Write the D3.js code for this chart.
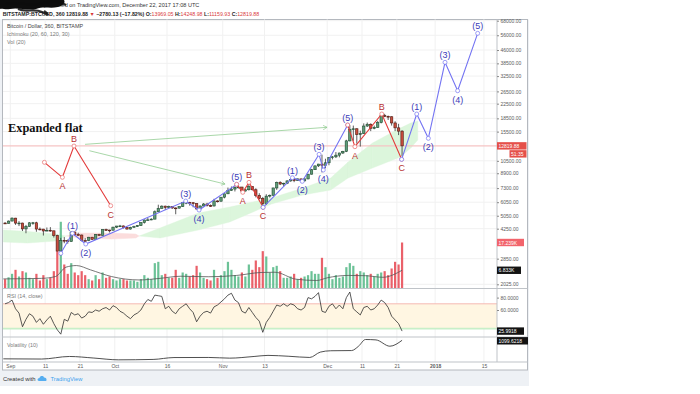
<!DOCTYPE html>
<html>
<head>
<meta charset="utf-8">
<title>BTCUSD 360 - Expanded flat</title>
<script src="https://cdn.jsdelivr.net/npm/d3@7/dist/d3.min.js"></script>
<style>
    body { margin: 0; background: #ffffff; }
    svg text { font-family: "Liberation Sans", Arial, sans-serif; }
</style>
</head>
<body>
<svg id="chart" width="700" height="394"></svg>
<script>
// daily candles 2017-08-30 .. 2017-12-22
var firstDay = "2017-08-30";
var firstOpen = 4580;
var closes = [4565, 4703,
    4892, 4579, 4582, 4237, 4376, 4597, 4599, 4229, 4226, 4122, 4161, 4131, 3882, 3154, 3637, 3625, 3582, 4065, 3924, 3905,
    3631, 3630, 3792, 3682, 3926, 3892, 4200, 4174, 4163, 4338,
    4403, 4409, 4317, 4229, 4328, 4370, 4426, 4610, 4772, 4781, 4827, 5325, 5563, 5739, 5647, 5711, 5603, 5590, 5708, 6011,
    6031, 6008, 5930, 5526, 5750, 5904, 5780, 5753, 6153, 6130, 6468,
    6767, 7078, 7207, 7379, 7407, 7023, 7144, 7459, 7143, 6618, 6357, 5950, 6559, 6635, 7315, 7871, 7708, 7790, 8036, 8200,
    8071, 8253, 8038, 8253, 8790, 9330, 9818, 10058, 9888, 10233,
    10975, 11074, 11323, 11657, 11916, 13700, 16000, 16100, 14900, 15100, 16700, 17100, 16200, 16400, 17500, 19200, 19000, 18900,
    17400, 16300, 15600, 12820];
var highs = [4640, 4740,
    4940, 4910, 4700, 4600, 4470, 4630, 4650, 4660, 4320, 4240, 4320, 4340, 4140, 3920, 3760, 3800, 3680, 4110, 4090, 4030,
    3930, 3750, 3810, 3810, 3950, 3970, 4210, 4250, 4190, 4360,
    4410, 4470, 4430, 4350, 4360, 4420, 4460, 4620, 4800, 4900, 4880, 5420, 5850, 5800, 5780, 5780, 5730, 5640, 5720, 6060,
    6180, 6080, 6050, 5960, 5800, 5980, 6000, 5870, 6330, 6200, 6470,
    6780, 7350, 7460, 7480, 7600, 7410, 7200, 7800, 7460, 7280, 6820, 6490, 6730, 6700, 7330, 7960, 8000, 7840, 8100, 8300,
    8370, 8290, 8280, 8320, 8800, 9430, 9850, 10080, 11400, 10800,
    11000, 11200, 11800, 11700, 12000, 13900, 16900, 16800, 16200, 15700, 17300, 17500, 17300, 16800, 17900, 19300, 19650, 19200,
    19000, 17800, 17200, 15800];
var lows = [4540, 4560,
    4700, 4470, 4400, 4120, 4000, 4370, 4480, 4080, 4160, 3880, 4110, 4080, 3780, 3150, 2980, 3500, 3480, 3580, 3870, 3880,
    3590, 3560, 3600, 3670, 3680, 3880, 3880, 4120, 4040, 4160,
    4290, 4380, 4260, 4200, 4200, 4320, 4350, 4420, 4550, 4730, 4760, 4820, 5320, 5560, 5450, 5600, 5530, 5150, 5560, 5680,
    5890, 5780, 5650, 5500, 5450, 5720, 5710, 5680, 5710, 6030, 6100,
    6370, 6740, 7050, 6980, 7280, 6950, 6970, 7070, 7070, 6450, 6280, 5500, 5830, 6430, 6600, 7130, 7600, 7460, 7700, 7950,
    7900, 8050, 8000, 7950, 8200, 8750, 9300, 9680, 9000, 9500,
    9900, 10700, 10900, 11000, 11500, 11800, 13600, 13700, 13200, 12700, 15000, 16500, 15600, 16000, 16300, 17300, 18800, 18100,
    16800, 15600, 14800, 11160];
// volume in thousands of BTC
var volumes = [3.5, 4.2,
    5.5, 7.0, 4.5, 6.5, 6.0, 4.0, 3.5, 5.5, 3.0, 5.0, 3.5, 4.0, 6.5, 14.0, 25.0, 9.0, 5.5, 9.5, 6.0, 5.0,
    6.5, 5.0, 3.5, 3.0, 5.0, 3.5, 6.0, 4.0, 4.5, 3.5,
    3.0, 3.5, 3.5, 3.0, 3.0, 3.0, 2.5, 3.5, 5.0, 4.0, 3.5, 9.5, 10.0, 5.0, 5.5, 4.0, 4.0, 7.0, 4.0, 6.0,
    5.5, 4.5, 5.0, 8.5, 6.0, 4.0, 3.5, 3.0, 7.0, 4.0, 5.0,
    6.5, 10.0, 7.0, 5.0, 4.5, 6.0, 4.5, 9.0, 7.0, 10.5, 8.0, 14.0, 12.0, 6.0, 8.0, 8.5, 6.5, 4.0, 4.0, 4.5,
    5.5, 3.5, 4.0, 4.5, 5.0, 6.5, 5.5, 5.5, 11.5, 8.0,
    5.5, 3.5, 5.0, 4.0, 4.5, 8.0, 9.5, 8.5, 5.5, 6.5, 6.0, 5.0, 5.5, 4.5, 5.5, 6.0, 6.5, 5.0,
    7.5, 10.0, 9.0, 17.239];
var rsiValues = [70, 72,
    76, 62, 55, 33, 45, 54, 50, 40, 46, 37, 44, 50, 38, 28, 21, 45, 42, 56, 52, 54,
    47, 50, 57, 56, 60, 58, 62, 64, 60, 67,
    64, 58, 55, 50, 46, 52, 55, 60, 70, 77, 74, 84, 83, 82, 62, 66, 58, 54, 62, 66,
    70, 62, 56, 41, 50, 56, 58, 55, 65, 68, 73,
    78, 84, 87, 76, 72, 58, 55, 64, 56, 48, 42, 24, 40, 48, 58, 68, 66, 70, 66, 70,
    68, 62, 60, 64, 80, 78, 82, 88, 58, 56,
    66, 70, 62, 68, 62, 80, 89, 62, 57, 52, 64, 66, 60, 62, 68, 76, 72, 64,
    50, 44, 38, 25.9918];

var volMADates = ["2017-08-30", "2017-09-10", "2017-09-14", "2017-09-17", "2017-09-20", "2017-09-24", "2017-09-30",
    "2017-10-08", "2017-10-14", "2017-10-20", "2017-10-28", "2017-11-05", "2017-11-12", "2017-11-16", "2017-11-22",
    "2017-11-28", "2017-12-01", "2017-12-07", "2017-12-12", "2017-12-17", "2017-12-22T12:00"];
var volMAValues = [3.6, 3.8, 4.5, 8.0, 8.6, 7.0, 4.5, 3.2, 3.8, 4.6, 4.4, 4.9, 6.0, 6.1, 3.5, 3.0, 4.0, 4.9, 4.8, 4.2, 6.833];

var volatilityDates = ["2017-08-30", "2017-09-10", "2017-09-18", "2017-09-25", "2017-10-02", "2017-10-12", "2017-10-18",
    "2017-10-28", "2017-11-03", "2017-11-10", "2017-11-14", "2017-11-20", "2017-11-26", "2017-11-29", "2017-12-02",
    "2017-12-08", "2017-12-10", "2017-12-12", "2017-12-15", "2017-12-19", "2017-12-22T12:00"];
var volatilityValues = [160, 150, 280, 200, 110, 130, 225, 230, 195, 280, 335, 290, 230, 500, 570, 580, 800, 1140, 1120, 800, 1099.6218];

// ichimoku cloud (leading spans, shifted forward)
var cloudDates = ["2017-08-30", "2017-09-06", "2017-09-14", "2017-09-17", "2017-09-21", "2017-09-30", "2017-10-07",
    "2017-10-08", "2017-10-14", "2017-10-25", "2017-11-03", "2017-11-15", "2017-11-24", "2017-12-02", "2017-12-07",
    "2017-12-14", "2017-12-22", "2017-12-25", "2017-12-27"];
var spanA = [4175, 4100, 3958, 3853, 3751, 3701, 3751, 3853, 4287, 5236, 5673, 6396, 7307, 8350, 10335, 13315, 16260, 17385, 17870];
var spanB = [3556, 3509, 3603, 3853, 4011, 4011, 3958, 3853, 3751, 4175, 4645, 5904, 6656, 7115, 8350, 9541, 11046, 12455, 13860];

// wave counts drawn on the chart: [time, price, label]
var flatWave = [["2017-09-10T19:00", 10294, ""], ["2017-09-15T23:00", 8430, "A"],
    ["2017-09-19T07:00", 12794, "B"], ["2017-09-29T20:00", 5772, "C"]];
var impulse1 = [["2017-09-15T12:00", 3060, ""], ["2017-09-18T20:00", 3995, "(1)"], ["2017-09-22T16:00", 3464, "(2)"],
    ["2017-10-21T09:00", 6145, "(3)"], ["2017-10-25T05:00", 5450, "(4)"], ["2017-11-05T00:00", 7676, "(5)"]];
var correction1 = [["2017-11-05T00:00", 7676, ""], ["2017-11-06T18:00", 6901, "A"],
    ["2017-11-08T13:00", 7884, "B"], ["2017-11-12T14:00", 5649, "C"]];
var impulse2 = [["2017-11-12T14:00", 5649, ""], ["2017-11-21T00:00", 8385, "(1)"], ["2017-11-23T20:00", 7990, "(2)"],
    ["2017-11-28T16:00", 11453, "(3)"], ["2017-11-29T21:00", 9290, "(4)"], ["2017-12-06T21:00", 16925, "(5)"]];
var correction2 = [["2017-12-06T21:00", 16925, ""], ["2017-12-08T23:00", 12675, "A"],
    ["2017-12-16T16:00", 19605, "B"], ["2017-12-22T09:00", 10713, "C"]];
var impulse3 = [["2017-12-22T09:00", 10713, ""], ["2017-12-26T17:00", 19600, "(1)"], ["2017-12-30T01:00", 14173, "(2)"],
    ["2018-01-03T20:00", 39050, "(3)"], ["2018-01-07T11:00", 26740, "(4)"], ["2018-01-13T05:00", 57470, "(5)"]];
var arrowStarts = [["2017-09-22T11:00", 13085], ["2017-09-23T17:00", 12018]];
var arrowEnds = [["2017-11-30T23:00", 16415], ["2017-11-01T16:00", 7706]];

var priceTicks = [68000, 56000, 46000, 38500, 32500, 26500, 22500, 18500, 15500, 10500, 8900, 7300, 6050, 5050, 4250, 2850, 2025];
var rsiTicks = [80, 60];
var timeTickDates = ["2017-09-01", "2017-09-11", "2017-09-21", "2017-10-01", "2017-10-16", "2017-11-01", "2017-11-13",
    "2017-12-01", "2017-12-11", "2017-12-21", "2018-01-01", "2018-01-15"];
var timeTickLabels = ["Sep", "11", "21", "Oct", "16", "Nov", "13", "Dec", "11", "21", "2018", "15"];

var lastPrice = 12819.88, lastVolume = 17.239, lastVolMA = 6.833, lastRsi = 25.9918, lastVolatility = 1099.6218;

var parseTime = d3.utcParse("%Y-%m-%dT%H:%M"),
    parseDay = d3.utcParse("%Y-%m-%d");

function toDate(s) {
    return s.length > 10 ? parseTime(s) : parseDay(s);
}

var svg = d3.select("#chart");

var plotLeft = 3, plotRight = 497,
    mainTop = 19.5, mainBottom = 288.5, rsiBottom = 337, volBottom = 362, frameBottom = 370;

var x = d3.scaleUtc()
    .domain([parseDay("2017-09-01"), parseDay("2017-12-01")])
    .range([10.3, 327.2]);
var y = d3.scaleLog()
    .domain([2025, 68000])
    .range([284.3, 20.7]);
var yVol = d3.scaleLinear()
    .domain([0, lastVolume])
    .range([mainBottom, 242.5]);
var yRsi = d3.scaleLinear()
    .domain([30, 70])
    .range([328.6, 303.8]);
var yVolat = d3.scaleLinear()
    .domain([0, lastVolatility])
    .range([volBottom, 340.3]);

// page frame
svg.append("rect").attr("x", 0).attr("y", 0).attr("width", 529).attr("height", 386).attr("fill", "#eef1f5");
svg.append("rect").attr("x", 0).attr("y", 0).attr("width", 529).attr("height", 19.5).attr("fill", "#ffffff");
svg.append("rect")
    .attr("x", 2.5).attr("y", mainTop)
    .attr("width", 525).attr("height", frameBottom - mainTop)
    .attr("fill", "#ffffff")
    .attr("stroke", "#b4b8be")
    .attr("stroke-width", 1);

svg.append("clipPath").attr("id", "mainClip")
    .append("rect").attr("x", plotLeft).attr("y", mainTop).attr("width", plotRight - plotLeft).attr("height", mainBottom - mainTop);
svg.append("clipPath").attr("id", "lowClip")
    .append("rect").attr("x", plotLeft).attr("y", mainBottom).attr("width", plotRight - plotLeft).attr("height", volBottom - mainBottom);

// grid
var grid = svg.append("g").attr("stroke", "#f1f1f1").attr("stroke-width", 1);
grid.selectAll(".vgrid")
    .data(timeTickDates)
    .enter().append("line")
    .attr("x1", function (d) { return x(parseDay(d)); })
    .attr("x2", function (d) { return x(parseDay(d)); })
    .attr("y1", mainTop)
    .attr("y2", volBottom);
grid.selectAll(".hgrid")
    .data(priceTicks)
    .enter().append("line")
    .attr("x1", plotLeft).attr("x2", plotRight)
    .attr("y1", function (d) { return y(d); })
    .attr("y2", function (d) { return y(d); });

var main = svg.append("g").attr("clip-path", "url(#mainClip)");

// ichimoku cloud
var cloud = cloudDates.map(function (d, i) {
    return {date: parseDay(d), a: spanA[i], b: spanB[i]};
});
var cloudArea = d3.area()
    .x(function (d) { return x(d.date); })
    .y0(function (d) { return y(d.a); })
    .y1(function (d) { return y(d.b); });
for (var i = 0; i < cloud.length - 1; i++) {
    var diff = (cloud[i].a - cloud[i].b) + (cloud[i + 1].a - cloud[i + 1].b);
    main.append("path")
        .datum([cloud[i], cloud[i + 1]])
        .attr("d", cloudArea)
        .attr("fill", diff >= 0 ? "#dcf6dc" : "#fbdcdc")
        .attr("stroke", diff >= 0 ? "#dcf6dc" : "#fbdcdc")
        .attr("stroke-width", 0.4);
}

// last price line
main.append("line")
    .attr("x1", plotLeft).attr("x2", plotRight)
    .attr("y1", y(lastPrice)).attr("y2", y(lastPrice))
    .attr("stroke", "#f6c4c4")
    .attr("stroke-width", 1.4);

var candles = closes.map(function (c, i) {
    return {
        date: d3.utcHour.offset(d3.utcDay.offset(parseDay(firstDay), i), 12),
        open: i === 0 ? firstOpen : closes[i - 1],
        close: c,
        high: highs[i],
        low: lows[i],
        volume: volumes[i],
        rsi: rsiValues[i]
    };
});

// volume
main.selectAll(".vol")
    .data(candles)
    .enter().append("rect")
    .attr("x", function (d) { return x(d.date) - 1.1; })
    .attr("width", 2.2)
    .attr("y", function (d) { return yVol(d.volume); })
    .attr("height", function (d) { return mainBottom - yVol(d.volume); })
    .attr("fill", function (d) { return d.close >= d.open ? "#5cbb8c" : "#e8505a"; })
    .attr("opacity", 0.9);

var volMA = volMADates.map(function (d, i) { return {date: toDate(d), v: volMAValues[i]}; });
main.append("path")
    .datum(volMA)
    .attr("d", d3.line().curve(d3.curveMonotoneX)
        .x(function (d) { return x(d.date); })
        .y(function (d) { return yVol(d.v); }))
    .attr("fill", "none")
    .attr("stroke", "#555")
    .attr("stroke-width", 0.8);

// candles
var candle = main.selectAll(".candle")
    .data(candles)
    .enter().append("g")
    .attr("class", "candle");
candle.append("line")
    .attr("x1", function (d) { return x(d.date); })
    .attr("x2", function (d) { return x(d.date); })
    .attr("y1", function (d) { return y(Math.max(d.high, d.open, d.close)); })
    .attr("y2", function (d) { return y(Math.min(d.low, d.open, d.close)); })
    .attr("stroke", "#333")
    .attr("stroke-width", 0.8);
candle.append("rect")
    .attr("x", function (d) { return x(d.date) - 1.2; })
    .attr("width", 2.4)
    .attr("y", function (d) { return y(Math.max(d.open, d.close)); })
    .attr("height", function (d) { return Math.max(0.8, y(Math.min(d.open, d.close)) - y(Math.max(d.open, d.close))); })
    .attr("fill", function (d) { return d.close >= d.open ? "#5f9c77" : "#c94d3d"; })
    .attr("stroke", function (d) { return d.close >= d.open ? "#1f4a31" : "#4f1811"; })
    .attr("stroke-width", 0.6);

// green arrows
svg.append("defs").append("marker")
    .attr("id", "arrowHead")
    .attr("viewBox", "0 0 8 8")
    .attr("refX", 7).attr("refY", 4)
    .attr("markerWidth", 5).attr("markerHeight", 5)
    .attr("markerUnits", "userSpaceOnUse")
    .attr("orient", "auto")
    .append("path")
    .attr("d", "M0,0 L7,4 L0,8")
    .attr("fill", "none")
    .attr("stroke", "#8cc98c")
    .attr("stroke-width", 1);

main.selectAll(".arrow")
    .data(arrowStarts)
    .enter().append("line")
    .attr("x1", function (d) { return x(toDate(d[0])); })
    .attr("y1", function (d) { return y(d[1]); })
    .attr("x2", function (d, i) { return x(toDate(arrowEnds[i][0])); })
    .attr("y2", function (d, i) { return y(arrowEnds[i][1]); })
    .attr("stroke", "#9fd29f")
    .attr("stroke-width", 0.9)
    .attr("marker-end", "url(#arrowHead)");

// wave counts
var waves = main.append("g");

function drawWave(points, lineColor, textColor, dotColor) {
    var pts = points.map(function (p, i) {
        return {
            date: toDate(p[0]),
            price: p[1],
            label: p[2],
            up: i > 0 && p[1] > points[i - 1][1]
        };
    });
    waves.append("path")
        .datum(pts)
        .attr("d", d3.line()
            .x(function (d) { return x(d.date); })
            .y(function (d) { return y(d.price); }))
        .attr("fill", "none")
        .attr("stroke", lineColor)
        .attr("stroke-width", 1.1);
    waves.selectAll(null)
        .data(pts)
        .enter().append("circle")
        .attr("cx", function (d) { return x(d.date); })
        .attr("cy", function (d) { return y(d.price); })
        .attr("r", 2)
        .attr("fill", "#ffffff")
        .attr("stroke", dotColor)
        .attr("stroke-width", 0.7);
    waves.selectAll(null)
        .data(pts.filter(function (d) { return d.label !== ""; }))
        .enter().append("text")
        .attr("x", function (d) { return x(d.date); })
        .attr("y", function (d) { return y(d.price) + (d.up ? -7.2 : 9); })
        .attr("text-anchor", "middle")
        .attr("dominant-baseline", "central")
        .attr("font-size", 9)
        .attr("fill", textColor)
        .text(function (d) { return d.label; });
}

drawWave(flatWave, "#e33b3b", "#b83232", "#e86a6a");
drawWave(impulse1, "#7474f2", "#3b3bb8", "#7474f2");
drawWave(correction1, "#e33b3b", "#b83232", "#e86a6a");
drawWave(impulse2, "#7474f2", "#3b3bb8", "#7474f2");
drawWave(correction2, "#e33b3b", "#b83232", "#e86a6a");
drawWave(impulse3, "#7474f2", "#3b3bb8", "#7474f2");

svg.append("text")
    .attr("x", 8).attr("y", 131.6)
    .attr("font-weight", "bold")
    .attr("font-size", 12.4)
    .attr("fill", "#111")
    .style("font-family", "'Liberation Serif', 'Times New Roman', serif")
    .text("Expanded flat");

// RSI pane
var low = svg.append("g").attr("clip-path", "url(#lowClip)");
low.append("rect")
    .attr("x", plotLeft).attr("width", plotRight - plotLeft)
    .attr("y", yRsi(70)).attr("height", yRsi(30) - yRsi(70))
    .attr("fill", "#fff6e2");
low.append("line")
    .attr("x1", plotLeft).attr("x2", plotRight)
    .attr("y1", yRsi(70)).attr("y2", yRsi(70))
    .attr("stroke", "#f5b9b4").attr("stroke-width", 1);
low.append("line")
    .attr("x1", plotLeft).attr("x2", plotRight)
    .attr("y1", yRsi(30)).attr("y2", yRsi(30))
    .attr("stroke", "#c8efc8").attr("stroke-width", 1.6);
low.append("path")
    .datum(candles)
    .attr("d", d3.line()
        .x(function (d) { return x(d.date); })
        .y(function (d) { return yRsi(d.rsi); }))
    .attr("fill", "none")
    .attr("stroke", "#2f2f2f")
    .attr("stroke-width", 0.8);

// volatility pane
var volat = volatilityDates.map(function (d, i) { return {date: toDate(d), v: volatilityValues[i]}; });
low.append("path")
    .datum(volat)
    .attr("d", d3.line().curve(d3.curveMonotoneX)
        .x(function (d) { return x(d.date); })
        .y(function (d) { return yVolat(d.v); }))
    .attr("fill", "none")
    .attr("stroke", "#3c3c3c")
    .attr("stroke-width", 0.9);

// pane separators and axis line
var sep = svg.append("g").attr("stroke", "#bfc3c8").attr("stroke-width", 1);
[mainBottom, rsiBottom, volBottom].forEach(function (yy) {
    sep.append("line").attr("x1", 2.5).attr("x2", 527.5).attr("y1", yy).attr("y2", yy);
});
sep.append("line").attr("x1", plotRight).attr("x2", plotRight).attr("y1", mainTop).attr("y2", volBottom);

// axes
var priceAxis = svg.append("g")
    .attr("transform", "translate(" + plotRight + ",0)")
    .call(d3.axisRight(y).tickValues(priceTicks).tickFormat(d3.format(".2f")).tickSize(2).tickPadding(1.5));
var rsiAxis = svg.append("g")
    .attr("transform", "translate(" + plotRight + ",0)")
    .call(d3.axisRight(yRsi).tickValues(rsiTicks).tickFormat(d3.format(".4f")).tickSize(2).tickPadding(1.5));
var timeAxis = svg.append("g")
    .attr("transform", "translate(0," + volBottom + ")")
    .call(d3.axisBottom(x)
        .tickValues(timeTickDates.map(function (d) { return parseDay(d); }))
        .tickFormat(function (d, i) { return timeTickLabels[i]; })
        .tickSize(0).tickPadding(2.5));
[priceAxis, rsiAxis, timeAxis].forEach(function (ax) {
    ax.select(".domain").remove();
    ax.selectAll("line").attr("stroke", "#8a8a8a");
    ax.selectAll("text")
        .attr("font-size", 5)
        .attr("font-family", null)
        .attr("fill", "#5a5a5a");
});
timeAxis.selectAll("text").filter(function (d, i) { return timeTickLabels[i] === "2018"; }).attr("font-weight", "bold");

// value tags on the price scale
function tag(yPos, label, fill, x0, w) {
    svg.append("rect")
        .attr("x", x0).attr("y", yPos - 3.7)
        .attr("width", w).attr("height", 7.4)
        .attr("fill", fill);
    svg.append("text")
        .attr("x", x0 + 1.5).attr("y", yPos)
        .attr("dominant-baseline", "central")
        .attr("font-size", 5)
        .attr("fill", "#ffffff")
        .text(label);
}
tag(y(lastPrice), d3.format(".2f")(lastPrice), "#e5504a", plotRight, 29.5);
tag(y(lastPrice) + 8, "51:35", "#e5504a", 509.5, 17);
tag(yVol(lastVolume), d3.format(".3f")(lastVolume) + "K", "#f2646c", plotRight, 27);
tag(yVol(lastVolMA), d3.format(".3f")(lastVolMA) + "K", "#131313", plotRight, 24);
tag(yRsi(lastRsi), d3.format(".4f")(lastRsi), "#131313", plotRight, 27);
tag(yVolat(lastVolatility) + 0.5, d3.format(".4f")(lastVolatility), "#131313", plotRight, 31);

// pane legends
var legend = svg.append("g").attr("font-size", 5.4);
legend.append("text").attr("x", 7).attr("y", 28).attr("fill", "#454545").text("Bitcoin / Dollar, 360, BITSTAMP");
legend.append("text").attr("x", 7).attr("y", 35.6).attr("fill", "#7a7a7a").text("Ichimoku (20, 60, 120, 30)");
legend.append("text").attr("x", 7).attr("y", 43.6).attr("fill", "#7a7a7a").text("Vol (20)");
legend.append("text").attr("x", 7).attr("y", 298).attr("fill", "#7a7a7a").text("RSI (14, close)");
legend.append("text").attr("x", 7).attr("y", 346.5).attr("fill", "#7a7a7a").text("Volatility (10)");

// header: font size fitted to the width the lines take in the snapshot
function fitText(sel, width) {
    var len = sel.node().getComputedTextLength();
    sel.attr("font-size", 5.6 * width / len);
}
var line1 = svg.append("text").attr("x", 44).attr("y", 7.4).attr("fill", "#333").attr("font-size", 5.6)
    .text("published on TradingView.com, December 22, 2017 17:08 UTC");
fitText(line1, 155.5);

var headerParts = [
    ["BITSTAMP:BTCUSD, 360 ", "#1e1e1e", "bold"],
    ["12819.88 ", "#1e1e1e", "bold"],
    ["\u25BC ", "#d93a3a", "normal"],
    ["\u22122780.13 (\u221217.82%) ", "#1e1e1e", "bold"],
    ["O:", "#1e1e1e", "bold"],
    ["13969.05 ", "#d93a3a", "normal"],
    ["H:", "#1e1e1e", "bold"],
    ["14248.98 ", "#d93a3a", "normal"],
    ["L:", "#1e1e1e", "bold"],
    ["11159.93 ", "#d93a3a", "normal"],
    ["C:", "#1e1e1e", "bold"],
    ["12819.88", "#d93a3a", "normal"]
];
var line2 = svg.append("text").attr("x", 2.7).attr("y", 15.6).attr("font-size", 5.6);
line2.selectAll("tspan")
    .data(headerParts)
    .enter().append("tspan")
    .attr("fill", function (d) { return d[1]; })
    .attr("font-weight", function (d) { return d[2]; })
    .text(function (d) { return d[0]; });
fitText(line2, 257.3);

// the scribble over the author name
svg.append("path")
    .attr("d", "M0,0 L64,0 C66,3 62,6 58,7 C50,9 44,6 36,9 C28,11 18,7 10,9 C5,10 2,8 0,9 Z")
    .attr("fill", "#0d0d0d");
svg.append("path")
    .attr("d", "M6,4 C18,1 30,7 44,3 S58,2 66,5 M18,9 C26,13 34,8 42,12 S48,14 44,11")
    .attr("fill", "none")
    .attr("stroke", "#0d0d0d")
    .attr("stroke-width", 2.2)
    .attr("opacity", 0.85);

// footer
svg.append("text").attr("x", 3).attr("y", 381).attr("font-size", 5.8).attr("fill", "#333").text("Created with");
svg.append("path")
    .attr("d", "M39,381 C37,381 37,378 39.5,378 C40,375.5 43.5,375.5 44,377.5 C46.5,377 47.5,381 45.5,381 Z")
    .attr("fill", "#56aef0");
svg.append("text").attr("x", 50.5).attr("y", 381).attr("font-size", 5.8).attr("fill", "#3da2ee").text("TradingView");
</script>
</body>
</html>
